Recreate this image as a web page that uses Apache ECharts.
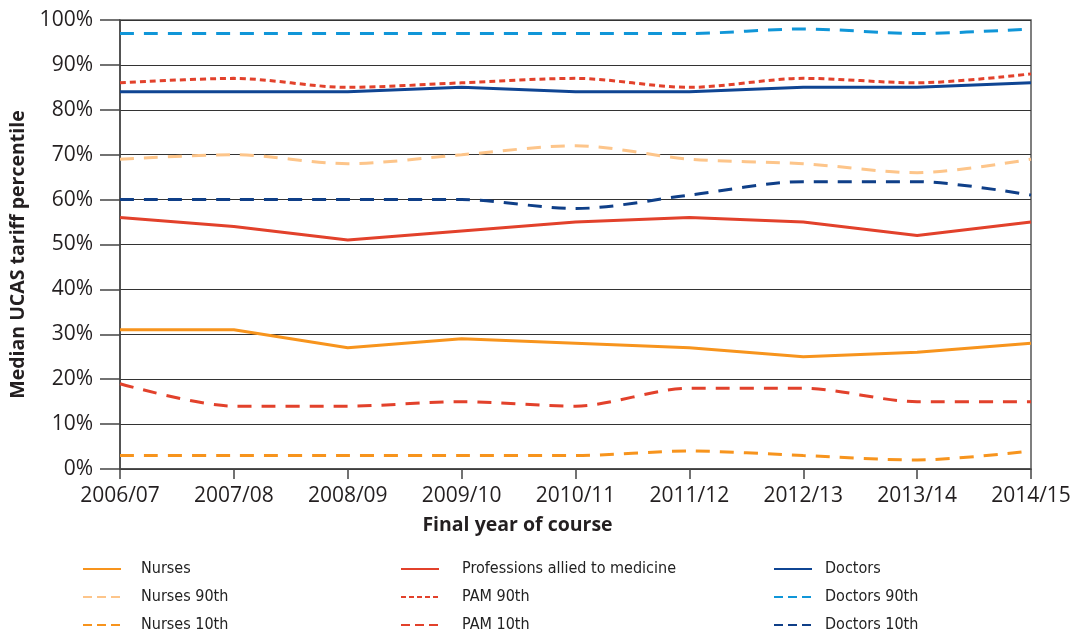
<!DOCTYPE html>
<html>
<head>
<meta charset="utf-8">
<script src="https://cdn.jsdelivr.net/npm/echarts@6/dist/echarts.min.js"></script>
<style>
  html, body { margin: 0; padding: 0; background: #fff; }
  #chart { width: 1070px; height: 638px; }
</style>
</head>
<body>
<div id="chart"></div>
<script>
  // final year of course
  const years = ['2006/07', '2007/08', '2008/09', '2009/10', '2010/11', '2011/12', '2012/13', '2013/14', '2014/15']

  // median UCAS tariff percentile (%)
  const nurses = [31, 31, 27, 29, 28, 27, 25, 26, 28]
  const pam = [56, 54, 51, 53, 55, 56, 55, 52, 55]
  const doctors = [84, 84, 84, 85, 84, 84, 85, 85, 86]
  const nurses90 = [69, 70, 68, 70, 72, 69, 68, 66, 69]
  const pam90 = [86, 87, 85, 86, 87, 85, 87, 86, 88]
  const doctors90 = [97, 97, 97, 97, 97, 97, 98, 97, 98]
  const nurses10 = [3, 3, 3, 3, 3, 4, 3, 2, 4]
  const pam10 = [19, 14, 14, 15, 14, 18, 18, 15, 15]
  const doctors10 = [60, 60, 60, 60, 58, 61, 64, 64, 61]

  const chart = echarts.init(document.getElementById('chart'))

  // helper for one line series
  function line (name, data, color, type, smooth) {
    return {
      name: name,
      type: 'line',
      data: data,
      symbol: 'none',
      smooth: smooth ? 0.3 : false,
      lineStyle: { color: color, width: 3, type: type },
      itemStyle: { color: color },
      emphasis: { disabled: true }
    }
  }

  // legend entries: [name, dash in legend]
  function legend (left, textGap, items) {
    return {
      orient: 'vertical',
      left: left,
      top: 559,
      padding: 0,
      itemGap: 8,
      itemWidth: 38,
      itemHeight: 20,
      itemStyle: { opacity: 0 },
      data: items.map(function (it) {
        return { name: it[0], lineStyle: { type: it[1] } }
      }),
      textStyle: {
        fontFamily: 'DejaVu Sans Condensed',
        fontSize: 16,
        lineHeight: 20,
        color: '#222',
        padding: [0, 0, 0, textGap]
      }
    }
  }

  const labelFont = { fontFamily: 'Open Sans', fontSize: 21, color: '#231f20' }
  const titleFont = { fontFamily: 'Open Sans', fontWeight: 'bold', fontSize: 19.5, color: '#231f20' }

  const option = {
    backgroundColor: '#fff',
    animation: false,
    grid: {
      left: 120,
      right: 39,
      top: 20,
      bottom: 169,
      outerBoundsMode: 'none',
      show: true,
      borderColor: '#555',
      borderWidth: 1.5
    },
    legend: [
      legend(82, 15, [['Nurses', 'solid'], ['Nurses 90th', [9, 5]], ['Nurses 10th', [9, 5]]]),
      legend(400, 18, [['Professions allied to medicine', 'solid'], ['PAM 90th', [5, 3]], ['PAM 10th', [9, 5]]]),
      legend(773, 8, [['Doctors', 'solid'], ['Doctors 90th', [9, 5]], ['Doctors 10th', [9, 5]]])
    ],
    xAxis: {
      type: 'category',
      data: years,
      boundaryGap: false,
      name: 'Final year of course',
      nameLocation: 'middle',
      nameGap: 46,
      nameTextStyle: Object.assign({ padding: [0, 116, 0, 0] }, titleFont),
      axisLine: { lineStyle: { color: '#444', width: 1.5 } },
      axisTick: { show: true, length: 10, lineStyle: { color: '#444', width: 1.5 } },
      axisLabel: Object.assign({ margin: 17 }, labelFont),
      splitLine: { show: false }
    },
    yAxis: {
      type: 'value',
      min: 0,
      max: 100,
      interval: 10,
      name: 'Median UCAS tariff percentile',
      nameLocation: 'middle',
      nameGap: 82,
      nameTextStyle: Object.assign({ padding: [0, 20, 0, 0] }, titleFont),
      axisLine: { show: true, lineStyle: { color: '#444', width: 1.5 } },
      axisTick: { show: true, length: 20, lineStyle: { color: '#444', width: 1.5 } },
      axisLabel: Object.assign({ formatter: '{value}%', margin: 27 }, labelFont),
      splitLine: { show: true, lineStyle: { color: '#333', width: 1.2 } }
    },
    series: [
      line('Nurses', nurses, '#f7941d', 'solid', false),
      line('Nurses 90th', nurses90, '#fdc58a', [14, 10], true),
      line('Nurses 10th', nurses10, '#f7941d', [14, 10], true),
      line('Professions allied to medicine', pam, '#e2412b', 'solid', false),
      line('PAM 90th', pam90, '#e2412b', [6, 4], true),
      line('PAM 10th', pam10, '#e2412b', [14, 10], true),
      line('Doctors', doctors, '#0f4593', 'solid', false),
      line('Doctors 90th', doctors90, '#1096d8', [14, 10], true),
      line('Doctors 10th', doctors10, '#0f3f88', [14, 10], true)
    ]
  }

  chart.setOption(option)
</script>
</body>
</html>
